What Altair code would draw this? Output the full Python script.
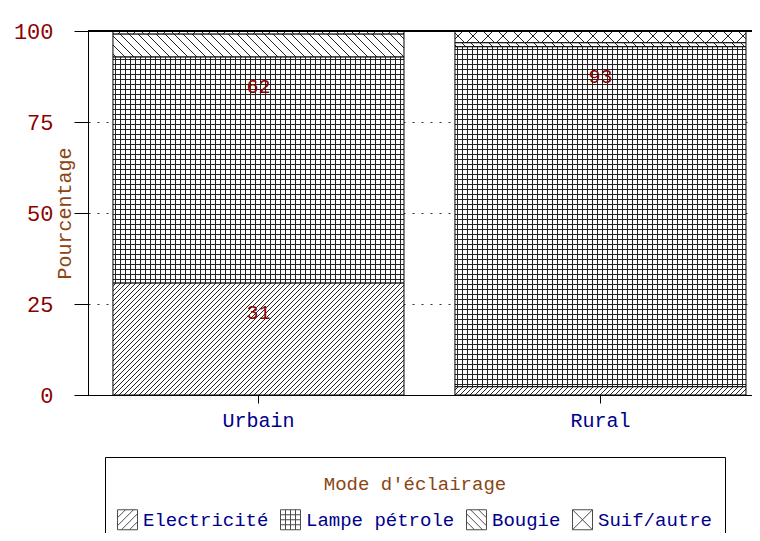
import math
import altair as alt
import pandas as pd

# ---------------- data ----------------
zones = ["Urbain", "Rural"]
modes = ["Electricité", "Lampe pétrole", "Bougie", "Suif/autre"]
urbain = [30.8, 62.1, 6.3, 0.8]
rural = [2.3, 93.4, 1.1, 3.2]
tick_values = [0, 25, 50, 75, 100]

# ---------------- style constants ----------------
FONT = "Liberation Mono"
PLOT_W, PLOT_H = 664, 364
PAD_IN, PAD_OUT, ALIGN = 0.149, 0.04525, 0.806
STEP = PLOT_W / (len(zones) - PAD_IN + 2 * PAD_OUT)
BAR_W = STEP * (1 - PAD_IN)
RED = "#8B0000"
BROWN = "#8B4513"
BLUE = "#00008B"
INK = "#222222"

rows = []
for zone, vals in zip(zones, [urbain, rural]):
    base = 0.0
    for mode, v in zip(modes, vals):
        rows.append({"zone": zone, "mode": mode, "value": v,
                     "y0": base, "y1": base + v})
        base += v
df = pd.DataFrame(rows)


def stripes(kind, w, h, per, th, bg, fg=INK):
    """per / th are measured along the gradient axis: pixels for h/v,
    and in units of (x+y) for the diagonals, i.e. horizontal spacing."""
    if kind == "h":
        coords = dict(x1=0, y1=0, x2=0, y2=1)
        span = h
    elif kind == "v":
        coords = dict(x1=0, y1=0, x2=1, y2=0)
        span = w
    else:
        s = (w + h) / (w * w + h * h)
        if kind == "/":
            coords = dict(x1=0, y1=0, x2=s * w, y2=s * h)
        else:
            coords = dict(x1=1, y1=0, x2=1 - s * w, y2=s * h)
        span = w + h
    stops = [{"offset": 0, "color": bg}]
    p = per / 2
    while p < span:
        a = round(p / span, 6)
        b = round(min(1.0, (p + th) / span), 6)
        stops += [{"offset": a, "color": bg}, {"offset": a, "color": fg},
                  {"offset": b, "color": fg}, {"offset": b, "color": bg}]
        p += per
    stops.append({"offset": 1, "color": bg})
    g = {"gradient": "linear", "stops": stops}
    g.update({k: round(v, 7) for k, v in coords.items()})
    return g


CLEAR = "rgba(0,0,0,0)"


def pattern(mode, w, h):
    if mode == "Electricité":
        return stripes("/", w, h, 5, 1.0, "white"), None
    if mode == "Lampe pétrole":
        return (stripes("h", w, h, 5, 1.0, "white"),
                stripes("v", w, h, 5, 1.0, CLEAR))
    if mode == "Bougie":
        return stripes("\\", w, h, 9, 1.0, "white"), None
    return (stripes("/", w, h, 15, 1.0, "white"),
            stripes("\\", w, h, 15, 1.0, CLEAR))


cond1, cond2 = [], []
for r in rows:
    hpx = r["value"] / 100 * PLOT_H
    g1, g2 = pattern(r["mode"], BAR_W, hpx)
    test = f"datum.zone === '{r['zone']}' && datum.mode === '{r['mode']}'"
    cond1.append({"test": test, "value": g1})
    if g2 is not None:
        cond2.append({"test": test, "value": g2})


def seg(x0, y0, x1, y1):
    return f"M{x0:.3f},{y0:.3f}L{x1:.3f},{y1:.3f}"


BOX = "M-1,-1L1,-1L1,1L-1,1Z"


def diag_fwd(cs):
    out = ""
    for c in cs:
        if c <= 0:
            out += seg(-1, c + 1, c + 1, -1)
        else:
            out += seg(c - 1, 1, 1, c - 1)
    return out


def diag_back(cs):
    out = ""
    for c in cs:
        if c <= 0:
            out += seg(-1, -1 - c, 1 + c, 1)
        else:
            out += seg(-1 + c, -1, 1, 1 - c)
    return out


legend_paths = [
    BOX + diag_fwd([-1.2, -0.4, 0.4, 1.2]),
    BOX + "".join(seg(c, -1, c, 1) + seg(-1, c, 1, c) for c in [-0.5, 0, 0.5]),
    BOX + diag_back([-1.2, -0.4, 0.4, 1.2]),
    BOX + "M-1,-1L1,1M1,-1L-1,1",
]

base = alt.Chart(df)

x_enc = alt.X(
    "zone:N",
    sort=zones,
    scale=alt.Scale(paddingInner=PAD_IN, paddingOuter=PAD_OUT, align=ALIGN),
    axis=alt.Axis(title=None, labelAngle=0, labelColor=BLUE, labelFont=FONT,
                  labelFontSize=20, tickSize=8, labelPadding=7,
                  domainColor="black", tickColor="black", grid=False),
)
y_scale = alt.Scale(domain=[0, 100], nice=False)

hidden = base.mark_point(filled=False, color="black", size=30).encode(
    x=x_enc,
    y=alt.datum(50),
    shape=alt.Shape(
        "mode:N",
        scale=alt.Scale(domain=modes, range=legend_paths),
        legend=alt.Legend(
            title=["", "Mode d'éclairage"], orient="none",
            legendX=17, legendY=426,
            direction="horizontal", columns=4, titleAnchor="middle",
            titleOrient="top", titleColor=BROWN, titleFont=FONT,
            titleFontSize=19, titleFontWeight="normal", titleLineHeight=6,
            titlePadding=15, titleLimit=600,
            labelColor=BLUE, labelFont=FONT, labelFontSize=19,
            labelOffset=5, columnPadding=9, labelLimit=400,
            symbolSize=400, symbolStrokeColor="black", symbolStrokeWidth=1,
            symbolFillColor="white", strokeColor="black", fillColor="white",
            padding=12,
        ),
    ),
)

top_line = base.mark_rule(color="black", strokeWidth=1.5).encode(
    y=alt.datum(100)
)

bars1 = base.mark_bar(stroke="black", strokeWidth=1).encode(
    x=x_enc,
    y=alt.Y(
        "y1:Q", scale=y_scale,
        axis=alt.Axis(values=tick_values, title="Pourcentage", tickSize=14,
                      labelPadding=21, labelColor=RED, labelFont=FONT,
                      labelFontSize=22, titleColor=BROWN, titleFont=FONT,
                      titleFontSize=20, titleFontWeight="normal",
                      titleX=-24, titleY=182, titleBaseline="middle",
                      titleAlign="center", domainColor="black",
                      tickColor="black", grid=True, gridDash=[2, 7],
                      gridColor="#333333", gridWidth=1),
    ),
    y2="y0:Q",
    fill={"condition": cond1, "value": "white"},
)

bars2 = base.mark_bar(strokeWidth=0).encode(
    x=x_enc,
    y=alt.Y("y1:Q", scale=y_scale),
    y2="y0:Q",
    fill={"condition": cond2, "value": CLEAR},
)

labels = base.transform_filter("datum.value > 10").mark_text(
    dy=30, font=FONT, fontSize=20, color=RED, baseline="middle",
).encode(
    x=x_enc,
    y=alt.Y("y1:Q", scale=y_scale),
    text=alt.Text("value:Q", format=".0f"),
)

chart = alt.layer(hidden, bars1, bars2, labels, top_line).properties(
    width=PLOT_W, height=PLOT_H,
    autosize=alt.AutoSizeParams(type="none"),
    padding={"left": 80, "top": 23, "right": 0, "bottom": 138},
).configure_view(stroke=None).configure(font=FONT)

chart.save("out.html", embed_options={"renderer": "svg", "actions": False})
